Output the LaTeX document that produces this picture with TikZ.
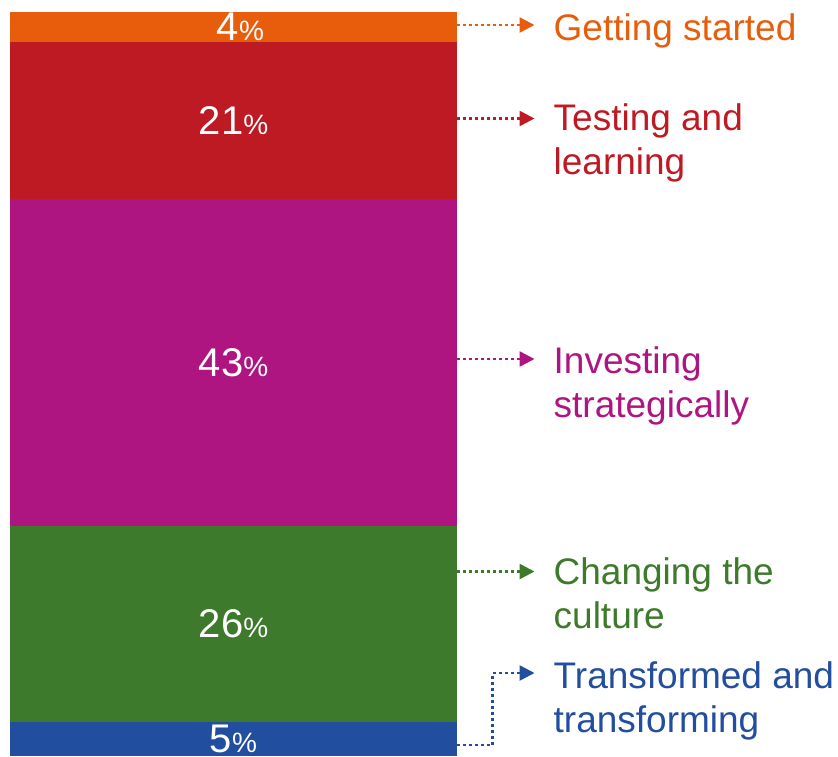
\documentclass[tikz,border=0pt]{standalone}
\usepackage{fontspec}
\setmainfont{Liberation Sans}
\usetikzlibrary{arrows.meta,positioning,calc}

\definecolor{cOrange}{RGB}{232,93,12}
\definecolor{cRed}{RGB}{190,26,36}
\definecolor{cMagenta}{RGB}{175,21,128}
\definecolor{cGreen}{RGB}{62,122,43}
\definecolor{cBlue}{RGB}{33,78,158}

\newcommand{\pctlbl}[1]{{\fontsize{40}{40}\selectfont #1}{\fontsize{28}{28}\selectfont\%}}

\tikzset{
  seg/.style={minimum width=447pt, minimum height=#1, inner sep=0pt, outer sep=0pt, text=white},
  lbl/.style={anchor=north west, inner sep=0pt, align=left, font=\fontsize{37}{43.5}\selectfont},
  arr/.style={line width=2.6pt, dash pattern=on 2.8pt off 3.2pt, -{Triangle[length=15pt,width=15pt]}}
}

\begin{document}
\begin{tikzpicture}[x=1pt,y=-1pt]
\useasboundingbox (0,0) rectangle (838,756);
%% the stacked bar
\node[seg=30.5pt, fill=cOrange, anchor=north] (s1) at (233.5,11.5) {\hspace*{14pt}\pctlbl{4}};
\node[seg=157pt, fill=cRed, below=0pt of s1] (s2) {\pctlbl{21}};
\node[seg=326.5pt, fill=cMagenta, below=0pt of s2] (s3) {\pctlbl{43}};
\node[seg=196.5pt, fill=cGreen, below=0pt of s3] (s4) {\pctlbl{26}};
\node[seg=34pt, fill=cBlue, below=0pt of s4] (s5) {\pctlbl{5}};

%% the labels on the right
\node[lbl, text=cOrange] (l1) at (553.5,13.5) {Getting started};
\node[lbl, text=cRed] (l2) at (553.5,103.5) {Testing and\\learning};
\node[lbl, text=cMagenta] (l3) at (553.5,346.5) {Investing\\strategically};
\node[lbl, text=cGreen] (l4) at (553.5,557.5) {Changing the\\culture};
\node[lbl, text=cBlue] (l5) at (553.5,661.5) {Transformed and\\transforming};

\coordinate (e1) at ([xshift=-19pt,yshift=-11.5pt]l1.north west);
\coordinate (e2) at ([xshift=-19pt,yshift=-15pt]l2.north west);
\coordinate (e3) at ([xshift=-19pt,yshift=-12.5pt]l3.north west);
\coordinate (e4) at ([xshift=-19pt,yshift=-14pt]l4.north west);
\coordinate (e5) at ([xshift=-19pt,yshift=-11.5pt]l5.north west);

%% dotted arrows
\draw[arr, cOrange] (s1.east |- e1) -- (e1);
\draw[arr, cRed] (s2.east |- e2) -- (e2);
\draw[arr, cMagenta] (s3.east |- e3) -- (e3);
\draw[arr, cGreen] (s4.east |- e4) -- (e4);
\draw[arr, cBlue] ([yshift=-6pt]s5.east) -| ([xshift=-42pt]e5) -- (e5);
\end{tikzpicture}
\end{document}
